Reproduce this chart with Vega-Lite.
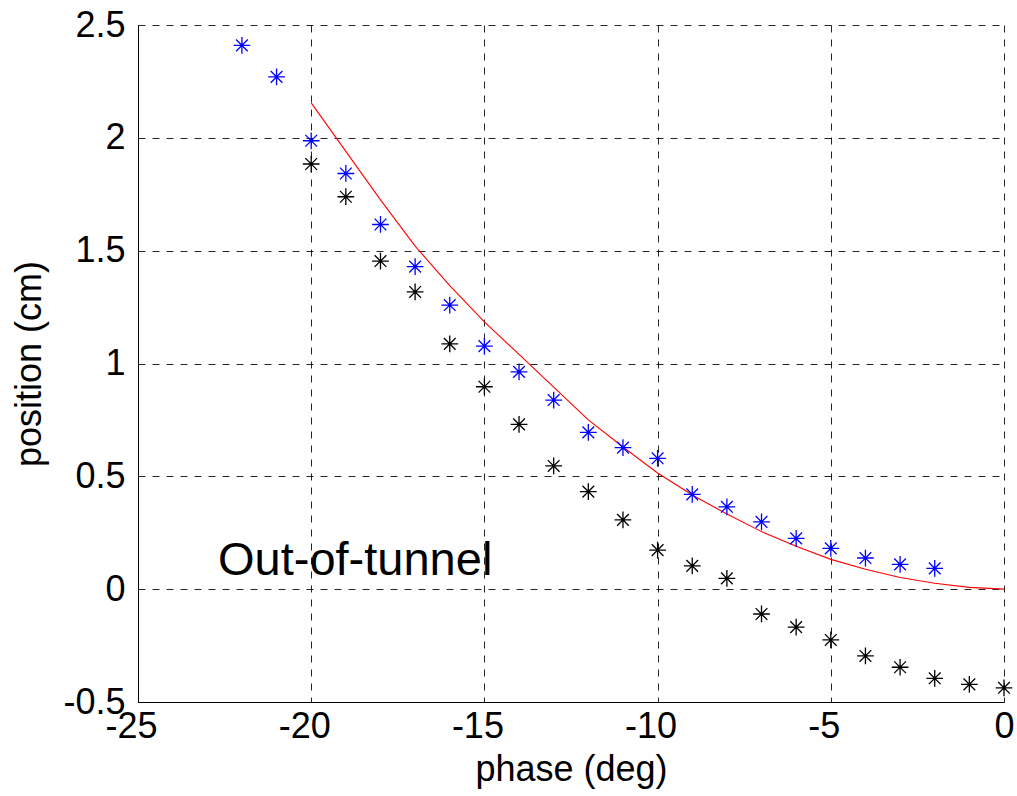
{
  "$schema": "https://vega.github.io/schema/vega-lite/v6.json",
  "width": 866,
  "height": 677,
  "autosize": "none",
  "padding": {"left": 138, "top": 25, "right": 13, "bottom": 94},
  "background": "white",
  "config": {
    "view": {"stroke": null},
    "font": "Liberation Sans",
    "axis": {
      "labelFont": "Liberation Sans",
      "titleFont": "Liberation Sans",
      "labelFontSize": 36,
      "titleFontSize": 36,
      "labelColor": "black",
      "titleColor": "black",
      "titleFontWeight": "normal",
      "domainColor": "black",
      "domainWidth": 1,
      "ticks": false,
      "grid": true,
      "gridColor": "black",
      "gridOpacity": 0.85,
      "gridDash": [7, 7],
      "gridWidth": 1,
      "labelFlush": false,
      "labelOverlap": false,
      "labelExpr": "'' + datum.value"
    }
  },
  "datasets": {
    "points": [
      {"phase": -22, "position": 2.41, "series": "blue"},
      {"phase": -21, "position": 2.27, "series": "blue"},
      {"phase": -20, "position": 1.987, "series": "blue"},
      {"phase": -19, "position": 1.842, "series": "blue"},
      {"phase": -18, "position": 1.616, "series": "blue"},
      {"phase": -17, "position": 1.429, "series": "blue"},
      {"phase": -16, "position": 1.259, "series": "blue"},
      {"phase": -15, "position": 1.077, "series": "blue"},
      {"phase": -14, "position": 0.963, "series": "blue"},
      {"phase": -13, "position": 0.838, "series": "blue"},
      {"phase": -12, "position": 0.695, "series": "blue"},
      {"phase": -11, "position": 0.627, "series": "blue"},
      {"phase": -10, "position": 0.58, "series": "blue"},
      {"phase": -9, "position": 0.42, "series": "blue"},
      {"phase": -8, "position": 0.365, "series": "blue"},
      {"phase": -7, "position": 0.298, "series": "blue"},
      {"phase": -6, "position": 0.225, "series": "blue"},
      {"phase": -5, "position": 0.181, "series": "blue"},
      {"phase": -4, "position": 0.138, "series": "blue"},
      {"phase": -3, "position": 0.11, "series": "blue"},
      {"phase": -2, "position": 0.092, "series": "blue"},
      {"phase": -20, "position": 1.884, "series": "black"},
      {"phase": -19, "position": 1.739, "series": "black"},
      {"phase": -18, "position": 1.454, "series": "black"},
      {"phase": -17, "position": 1.317, "series": "black"},
      {"phase": -16, "position": 1.087, "series": "black"},
      {"phase": -15, "position": 0.897, "series": "black"},
      {"phase": -14, "position": 0.73, "series": "black"},
      {"phase": -13, "position": 0.546, "series": "black"},
      {"phase": -12, "position": 0.432, "series": "black"},
      {"phase": -11, "position": 0.307, "series": "black"},
      {"phase": -10, "position": 0.173, "series": "black"},
      {"phase": -9, "position": 0.103, "series": "black"},
      {"phase": -8, "position": 0.048, "series": "black"},
      {"phase": -7, "position": -0.11, "series": "black"},
      {"phase": -6, "position": -0.168, "series": "black"},
      {"phase": -5, "position": -0.225, "series": "black"},
      {"phase": -4, "position": -0.296, "series": "black"},
      {"phase": -3, "position": -0.346, "series": "black"},
      {"phase": -2, "position": -0.395, "series": "black"},
      {"phase": -1, "position": -0.422, "series": "black"},
      {"phase": 0, "position": -0.437, "series": "black"}
    ],
    "fit": [
      {"phase": -20, "position": 2.155},
      {"phase": -19, "position": 1.94},
      {"phase": -18, "position": 1.725},
      {"phase": -17, "position": 1.52},
      {"phase": -16, "position": 1.345},
      {"phase": -15, "position": 1.184},
      {"phase": -14, "position": 1.04},
      {"phase": -13, "position": 0.895},
      {"phase": -12, "position": 0.75},
      {"phase": -11, "position": 0.63},
      {"phase": -10, "position": 0.515},
      {"phase": -9, "position": 0.417},
      {"phase": -8, "position": 0.333},
      {"phase": -7, "position": 0.255},
      {"phase": -6, "position": 0.19},
      {"phase": -5, "position": 0.132},
      {"phase": -4, "position": 0.088},
      {"phase": -3, "position": 0.052},
      {"phase": -2, "position": 0.026},
      {"phase": -1, "position": 0.008},
      {"phase": 0, "position": 0}
    ],
    "labels": [
      {"phase": -22.69, "position": 0.063, "text": "Out-of-tunnel"}
    ]
  },
  "layer": [
    {
      "data": {"name": "fit"},
      "mark": {"type": "line", "color": "#ff0000", "strokeWidth": 1.1},
      "encoding": {
        "x": {
          "field": "phase",
          "type": "quantitative",
          "scale": {"domain": [-25, 0], "nice": false},
          "axis": {
            "values": [-25, -20, -15, -10, -5, 0],
            "title": "phase (deg)",
            "labelPadding": 7,
            "labelOffset": {"condition": {"test": "datum.value < 0", "value": -7}, "value": 0},
            "titlePadding": 8
          }
        },
        "y": {
          "field": "position",
          "type": "quantitative",
          "scale": {"domain": [-0.5, 2.5], "nice": false, "zero": false},
          "axis": {"values": [-0.5, 0, 0.5, 1, 1.5, 2, 2.5], "title": "position (cm)", "labelPadding": 13, "titlePadding": 14}
        }
      }
    },
    {
      "data": {"name": "points"},
      "mark": {
        "type": "point",
        "shape": "M-1,0L1,0M0,-1L0,1M-0.7,-0.7L0.7,0.7M-0.7,0.7L0.7,-0.7",
        "filled": false,
        "size": 280,
        "strokeWidth": 1.3,
        "opacity": 1
      },
      "encoding": {
        "x": {"field": "phase", "type": "quantitative"},
        "y": {"field": "position", "type": "quantitative"},
        "color": {
          "field": "series",
          "type": "nominal",
          "scale": {"domain": ["blue", "black"], "range": ["#0000ff", "#000000"]},
          "legend": null
        }
      }
    },
    {
      "data": {"name": "labels"},
      "mark": {"type": "text", "align": "left", "baseline": "alphabetic", "fontSize": 47, "font": "Liberation Sans", "color": "black"},
      "encoding": {
        "x": {"field": "phase", "type": "quantitative"},
        "y": {"field": "position", "type": "quantitative"},
        "text": {"field": "text"}
      }
    }
  ]
}
